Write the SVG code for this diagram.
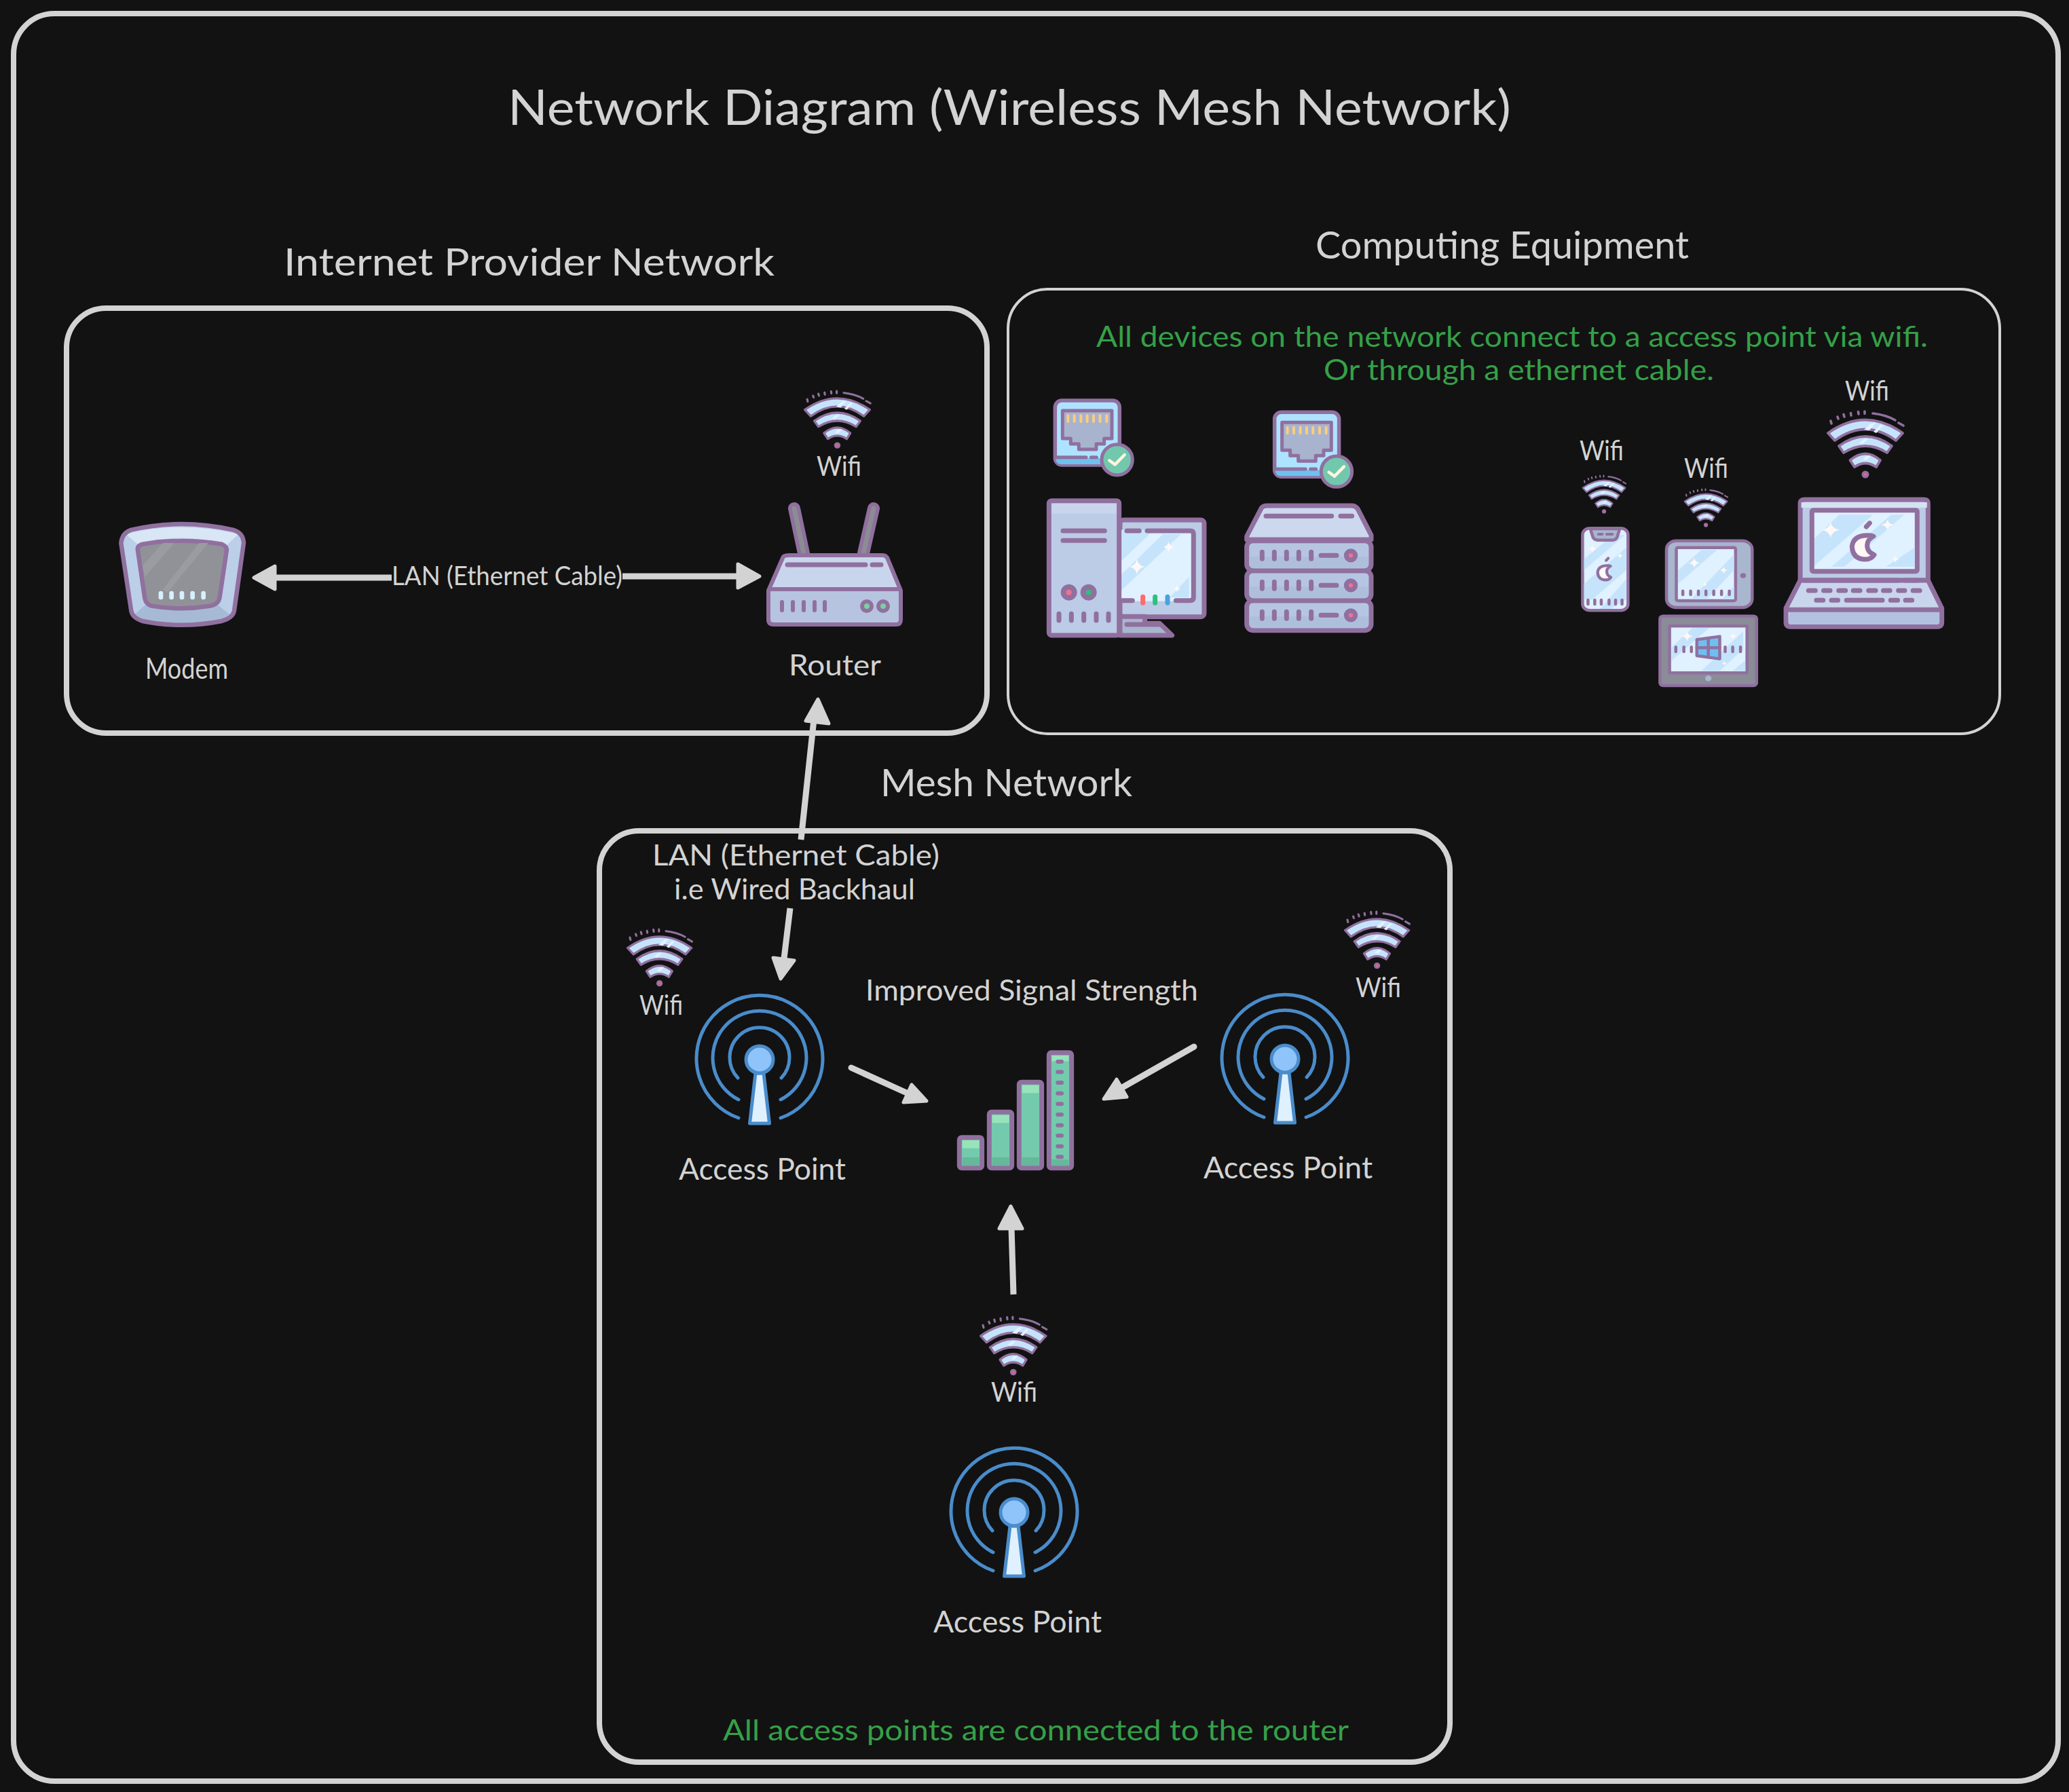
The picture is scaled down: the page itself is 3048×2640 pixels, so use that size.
<svg xmlns="http://www.w3.org/2000/svg" width="3048" height="2640" viewBox="0 0 3048 2640">
<style>
*{vector-effect:non-scaling-stroke}
.sc,.sc *{vector-effect:none}
.fr{fill:none;stroke:#d3d3d3}
.t{font-family:"Lato","Noto Sans",sans-serif;fill:#d3d3d3}
.g{font-family:"Lato","Noto Sans",sans-serif;fill:#35a048}
.p{stroke:#90709f;stroke-linejoin:round;stroke-linecap:round}
.l{fill:none;stroke:#90709f;stroke-linecap:round;stroke-linejoin:round}
.w{fill:#fff8f6}
.ar{fill:#d3d3d3;stroke:#d3d3d3;stroke-width:5;stroke-linejoin:round}
.ln{fill:none;stroke:#d3d3d3;stroke-width:9}
.ap{fill:none;stroke:#4a8ccb;stroke-width:5;stroke-linecap:round}
</style>
<defs>
<path id="star" d="M0-1Q.15-.15 1 0Q.15 .15 0 1Q-.15 .15-1 0Q-.15-.15 0-1Z" class="w"/>
<g id="apple" class="sc">
<path d="M290 207Q212 200 205 255Q208 312 265 312Q290 312 303 292Q272 280 272 250Q272 225 300 210Z" class="w" stroke="#90709f" stroke-width="21" stroke-linejoin="round"/>
<path d="M268 168L283 152" fill="none" stroke="#90709f" stroke-width="21" stroke-linecap="round"/>
</g>
<g id="wifi" class="sc">
<g fill="#c5e4fb" stroke="#90709f" stroke-width="3.800" stroke-linejoin="round">
<path d="M3 31Q58-8 113 31L103 42Q58 9 13 42Z"/>
<path d="M19 50Q58 22 97 50L90 60Q58 40 26 60Z"/>
<path d="M35.500 71Q58 52 80 71L74 81Q58 70 42 81Z"/>
</g>
<path d="M66 17L74 15L64 27L56 26ZM80 19L84 20L74 31L70 29ZM56 40L63 39L54 47L48 46ZM60 64L66 64L60 71L54 70Z" fill="#e3f3ff"/>
<circle cx="58" cy="92" r="4" fill="#e0608f" stroke="#90709f" stroke-width="3"/>
<path d="M8 17L7 13M18 10L17 7M27 7L26 3.500M37 5L36.500 1.500M48 3L47.500-.5M57 2.500V-1M69 2Q88 4 102 12M107 16L114 20" fill="none" stroke="#90709f" stroke-width="3.600" stroke-linecap="round"/>
</g>
<g id="apicon">
<path class="ap" d="M-31 86A93 93 0 1 1 31 86M-31 59A69 69 0 1 1 31 59M-32 27A44 44 0 1 1 32 27"/>
<path d="M-6 20H6L14.500 94H-14.500Z" fill="#dff0ff" stroke="#4a8ccb" stroke-width="5" stroke-linejoin="round"/>
<circle r="20" fill="#8fc4fb" stroke="#4a8ccb" stroke-width="5"/>
</g>
<g id="rj">
<rect x="163" y="150" width="285" height="285" rx="30" fill="#aee3ff" class="p" stroke-width="5.500"/>
<path d="M166 405H440V405Q445 432 420 432H190Q166 432 166 405Z" fill="#6dc1ef"/>
<path d="M170 401H300M322 401H346" class="l" stroke-width="5"/>
<path d="M196 195H414V318H380V342H345V366H268V342H232V318H196Z" fill="#a8b4ce" class="p" stroke-width="5"/>
<path d="M220 217V243M248 217V243M277 217V243M305 217V243M333 217V243M362 217V243M391 217V243" fill="none" stroke="#fbcd7c" stroke-width="4" stroke-linecap="round"/>
<circle cx="437" cy="412" r="68" fill="#72c8ac" class="p" stroke-width="5"/>
<path d="M403 415L428 433L470 390" fill="none" stroke="#fdf4df" stroke-width="4.500" stroke-linecap="round" stroke-linejoin="round"/>
</g>
<g id="rack">
<rect x="50" y="0" width="550" height="132" rx="28" fill="#b6c6e2" class="p" stroke-width="7"/>
<path d="M62 70H588V100Q588 122 566 122H84Q62 122 62 100Z" fill="#aebfdc"/>
<path d="M118 50V80M172 50V80M226 50V80M280 50V80M335 50V80M378 65H447" class="l" stroke-width="7"/>
<circle cx="510" cy="65" r="20" fill="#f2708f" class="p" stroke-width="7"/>
</g>
</defs>

<rect width="3048" height="2640" fill="#121212"/>
<rect id="frame" class="fr" x="20" y="20" width="3012" height="2604" rx="60" stroke-width="8"/>
<text class="t" x="748" y="184" font-size="72" textLength="1478" lengthAdjust="spacingAndGlyphs">Network Diagram (Wireless Mesh Network)</text>

<g id="internet-provider-network">
<rect class="fr" x="98" y="454" width="1356" height="626" rx="58" stroke-width="8"/>
<text class="t" x="418" y="406" font-size="56" textLength="723" lengthAdjust="spacingAndGlyphs">Internet Provider Network</text>
</g>
<g id="computing-equipment">
<rect class="fr" x="1485" y="426" width="1461" height="655" rx="58" stroke-width="4"/>
<text class="t" x="1938" y="381" font-size="56" textLength="550" lengthAdjust="spacingAndGlyphs">Computing Equipment</text>
<text class="g" x="1615" y="511" font-size="42" textLength="1225" lengthAdjust="spacingAndGlyphs">All devices on the network connect to a access point via wifi.</text>
<text class="g" x="1950" y="560" font-size="42" textLength="575" lengthAdjust="spacingAndGlyphs">Or through a ethernet cable.</text>
</g>
<g id="mesh-network">
<rect class="fr" x="883" y="1224" width="1253" height="1372" rx="58" stroke-width="8"/>
<text class="t" x="1297" y="1173" font-size="56" textLength="371" lengthAdjust="spacingAndGlyphs">Mesh Network</text>
<text class="g" x="1065" y="2564" font-size="42" textLength="922" lengthAdjust="spacingAndGlyphs">All access points are connected to the router</text>
</g>

<g id="connectors">
<path class="ln" d="M405 851H577M917 849H1085"/>
<path class="ar" d="M374 851L405 834V868Z"/>
<path class="ar" d="M1119 849L1087 831V866Z"/>
<path class="ln" d="M1180 1237L1199 1060M1164 1338L1155 1412"/>
<path class="ar" d="M1205 1030L1187 1062L1221 1066Z"/>
<path class="ar" d="M1150 1442L1139 1411L1170 1415Z"/>
<path class="ln" d="M1254 1573L1340 1612" stroke-linecap="round"/>
<path class="ar" d="M1365 1622L1343 1598L1331 1624Z"/>
<path class="ln" d="M1759 1542L1650 1604" stroke-linecap="round"/>
<path class="ar" d="M1626 1619L1645 1590L1660 1616Z"/>
<path class="ln" d="M1493 1907L1490 1808"/>
<path class="ar" d="M1489 1777L1472 1810L1506 1810Z"/>
</g>

<g id="modem">
<g transform="translate(160 750) scale(.3333)">
<path d="M55 150Q60 105 100 92Q320 40 550 92Q595 105 597 150L555 450Q550 480 500 495Q320 530 150 495Q105 480 100 450Z" fill="#bccfe8"/>
<path d="M75 110Q320 50 575 110L515 165Q320 125 140 165Z" fill="#d8e6f6"/>
<path d="M160 425Q320 455 485 425L540 470Q520 485 500 490Q320 525 150 490Q125 485 110 470Z" fill="#a7bad5"/>
<path d="M55 150Q60 105 100 92Q320 40 550 92Q595 105 597 150L555 450Q550 480 500 495Q320 530 150 495Q105 480 100 450Z" fill="none" class="p" stroke-width="6.500"/>
<path d="M128 175Q130 160 150 155Q320 125 500 155Q522 165 522 180L490 395Q485 420 450 428Q320 450 190 428Q165 420 160 395Z" fill="#909298" class="p" stroke-width="6.500"/>
<path d="M150 250L240 150H290L160 300ZM240 355L400 150H440L260 370Z" fill="#9a9ca2"/>
<g fill="#d8f0ff"><rect x="221" y="362" width="20" height="38" rx="9"/><rect x="268" y="362" width="20" height="38" rx="9"/><rect x="314" y="362" width="20" height="38" rx="9"/><rect x="361" y="362" width="20" height="38" rx="9"/><rect x="409" y="362" width="20" height="38" rx="9"/></g>
</g>
<text class="t" x="214" y="1000" font-size="42" textLength="122" lengthAdjust="spacingAndGlyphs">Modem</text>
</g>

<g id="router">
<path d="M1170 749L1184 815M1287 749L1272 815" stroke="#90709f" stroke-width="18" stroke-linecap="round"/>
<path d="M1170 749L1184 815M1287 749L1272 815" stroke="#8c8c94" stroke-width="7" stroke-linecap="round"/>
<path d="M1153 822Q1154 818 1162 818H1300Q1306 818 1308 824L1327 870V913Q1327 920 1320 920H1136Q1132 920 1132 913V870Z" fill="#c9d5ec"/>
<path d="M1132 868H1327V913Q1327 920 1320 920H1140Q1132 920 1132 913Z" fill="#b6c4e0"/>
<path d="M1153 822Q1154 818 1162 818H1300Q1306 818 1308 824L1327 870V913Q1327 920 1320 920H1140Q1132 920 1132 913V870Z" fill="none" class="p" stroke-width="6"/>
<path d="M1134 868H1325" class="l" stroke-width="6"/>
<path d="M1160 832H1275M1285 832H1298" class="l" stroke-width="7"/>
<path d="M1152 887V899M1168 887V899M1184 887V899M1200 887V899M1215 887V899" class="l" stroke-width="6"/>
<circle cx="1277" cy="893" r="7" fill="#7bd0a0" class="p" stroke-width="6"/>
<circle cx="1301" cy="893" r="7" fill="#7bd0a0" class="p" stroke-width="6"/>
<text class="t" x="1162" y="995" font-size="42" textLength="136" lengthAdjust="spacingAndGlyphs">Router</text>
</g>
<g id="router-wifi">
<use href="#wifi" transform="translate(1183 577) scale(.87 .86)"/>
<text class="t" x="1203" y="701" font-size="40" textLength="66" lengthAdjust="spacingAndGlyphs">Wifi</text>
</g>
<text class="t" x="577" y="862" font-size="38" textLength="340" lengthAdjust="spacingAndGlyphs">LAN (Ethernet Cable)</text>

<g id="desktop-computer" transform="translate(1500 540) scale(.3333)">
<use href="#rj"/>
<rect x="450" y="678" width="372" height="428" rx="15" fill="#bccbe6" class="p" stroke-width="7"/>
<rect x="450" y="722" width="325" height="315" fill="#e0f1ff"/>
<path d="M455 722H600L455 860ZM640 740H720L455 990V920ZM755 930V1020H670Z" fill="#c5e4fb"/>
<path d="M480 726H535M570 726H760Q775 726 775 740V1020Q775 1034 760 1034H697M455 1034H505" class="l" stroke-width="7"/>
<use href="#star" transform="translate(525 885) scale(34)"/>
<use href="#star" transform="translate(665 798) scale(24)"/>
<use href="#star" transform="translate(702 982) scale(16)"/>
<path d="M551 1018V1045" stroke="#ff6b6b" stroke-width="7" stroke-linecap="round"/>
<path d="M605 1018V1045" stroke="#2fbf80" stroke-width="7" stroke-linecap="round"/>
<path d="M660 1018V1045" stroke="#4aa2dc" stroke-width="7" stroke-linecap="round"/>
<path d="M450 1105H560V1135H625L680 1188H450Z" fill="#a8b6ce" class="p" stroke-width="7"/>
<path d="M480 1140H625" class="l" stroke-width="7"/>
<rect x="136" y="593" width="310" height="595" rx="12" fill="#bccbe6" class="p" stroke-width="7"/>
<rect x="148" y="606" width="286" height="44" fill="#c9d5ec"/>
<path d="M198 726H382M198 769H382" class="l" stroke-width="7"/>
<circle cx="224" cy="998" r="24" fill="#f2708f" class="p" stroke-width="8"/>
<circle cx="311" cy="998" r="24" fill="#2cbf80" class="p" stroke-width="8"/>
<path d="M180 1093V1122M235 1093V1122M290 1093V1122M345 1093V1122M399 1093V1122" class="l" stroke-width="7"/>
</g>

<use id="server-rj" href="#rj" transform="translate(1500 540) scale(.3333) translate(970 52)"/>
<g id="server-rack" transform="translate(1820 730) scale(.3333)">
<use href="#rack" y="464" transform="translate(0 0)"/>
<use href="#rack" y="332"/>
<use href="#rack" y="200"/>
<path d="M50 195V180L115 55Q122 45 140 45H515Q530 45 540 58L600 175V195Z" fill="#ccd8ee" class="p" stroke-width="7"/>
<path d="M135 91H425M465 91H515" class="l" stroke-width="7"/>
</g>

<g id="phone" transform="translate(2300 540) scale(.3827 .3333)">
<rect x="82" y="715" width="175" height="363" rx="28" fill="#e0f1ff" class="p" stroke-width="4.500"/>
<path d="M88 850L200 745H245L88 900ZM88 960L250 800V900L120 1030H88ZM250 940V1030L190 1070H150Z" fill="#c5e4fb"/>
<path d="M112 717H225L215 755Q210 767 198 767H140Q128 767 122 755Z" fill="#a8b6ce" class="p" stroke-width="4.500"/>
<path d="M143 741H158M175 741H197" class="l" stroke-width="4"/>
<use href="#star" transform="translate(120 806) scale(17)"/>
<use href="#star" transform="translate(226 836) scale(12)"/>
<path d="M103 1032V1050M129 1032V1050M154 1032V1050M184 1032V1050M209 1032V1050M234 1032V1050" class="l" stroke-width="4.500"/>
</g>
<use id="phone-apple" href="#apple" transform="translate(2312.600 792) scale(.2)"/>
<g id="phone-wifi"><use href="#wifi" transform="translate(2330 701) scale(.57)"/>
<text class="t" x="2327" y="678" font-size="40" textLength="65" lengthAdjust="spacingAndGlyphs">Wifi</text></g>

<g id="ipad" transform="translate(2300 540) scale(.3827 .3333)">
<rect x="405" y="770" width="330" height="295" rx="38" fill="#a8b6ce" class="p" stroke-width="4.500"/>
<rect x="443" y="800" width="228" height="235" rx="6" fill="#e0f1ff" class="p" stroke-width="4.500"/>
<path d="M450 900L540 810H600L450 960ZM665 830V900L560 1028H500ZM665 970V1028H620Z" fill="#c5e4fb"/>
<use href="#star" transform="translate(512 868) scale(22)"/>
<use href="#star" transform="translate(625 900) scale(15)"/>
<use href="#star" transform="translate(553 962) scale(9)"/>
<circle cx="700" cy="924" r="11" fill="#90709f"/>
<path d="M468 992V1008M498 992V1008M528 992V1008M557 992V1008M587 992V1008M617 992V1008M647 992V1008" class="l" stroke-width="4.500"/>
</g>
<g id="ipad-wifi"><use href="#wifi" transform="translate(2480 721) scale(.57)"/>
<text class="t" x="2481" y="704" font-size="40" textLength="65" lengthAdjust="spacingAndGlyphs">Wifi</text></g>

<g id="windows-tablet" transform="translate(2300 540) scale(.3827 .3333)">
<rect x="380" y="1103" width="372" height="307" rx="12" fill="#8a8c97" class="p" stroke-width="4.500"/>
<rect x="417" y="1147" width="298" height="207" fill="#e0f1ff" class="p" stroke-width="4.500"/>
<path d="M425 1240L505 1155H570L425 1300ZM700 1170V1250L610 1345H540ZM708 1300V1345H660Z" fill="#c5e4fb"/>
<use href="#star" transform="translate(485 1192) scale(22)"/>
<use href="#star" transform="translate(662 1192) scale(15)"/>
<use href="#star" transform="translate(628 1312) scale(10)"/>
<path d="M522 1207L610 1193V1292L522 1278Z" fill="#6cc0f2" class="p" stroke-width="4.500"/>
<path d="M566 1200V1285M522 1243H610" class="l" stroke-width="4.500"/>
<path d="M441 1240V1260M472 1240V1260M501 1240V1260M631 1240V1260M660 1240V1260M690 1240V1260" class="l" stroke-width="4.500"/>
<ellipse cx="566" cy="1378" rx="12" ry="13" fill="#a8b6ce"/>
</g>

<g id="laptop" transform="translate(2300 540) scale(.3827 .3333)">
<path d="M920 945V605Q920 588 938 588H1395Q1412 588 1412 605V945Z" fill="#bccbe6" class="p" stroke-width="7"/>
<rect x="924" y="600" width="484" height="24" fill="#d5e2f0"/>
<rect x="965" y="635" width="405" height="270" rx="6" fill="#e0f1ff" class="p" stroke-width="7"/>
<path d="M975 760L1070 655H1200L975 880ZM1270 655H1320L1090 885H1040ZM1360 800V885H1250Z" fill="#c5e4fb"/>
<use href="#star" transform="translate(1037 722) scale(34)"/>
<use href="#star" transform="translate(1256 700) scale(24)"/>
<use href="#star" transform="translate(1286 851) scale(15)"/>
<path d="M920 945H1412L1465 1068V1130Q1465 1150 1445 1150H885Q865 1150 865 1130V1068Z" fill="#c9d5ec" class="p" stroke-width="7"/>
<path d="M880 1078H1455V1130Q1455 1140 1445 1140H885Q875 1140 875 1130Z" fill="#b1c1df"/>
<path d="M868 1075H1462" class="l" stroke-width="7"/>
<path d="M935 945H1295M1325 945H1370" class="l" stroke-width="7"/>
<path d="M952 990H978M1010 990H1035M1068 990H1094M1124 990H1150M1183 990H1210M1240 990H1265M1298 990H1322M1354 990H1380M982 1033H1008M1040 1033H1065M1098 1033H1236M1268 1033H1295M1325 1033H1350" class="l" stroke-width="7"/>
</g>
<use id="laptop-apple" href="#apple" transform="translate(2660 720) scale(.3333)"/>
<g id="laptop-wifi"><use href="#wifi" transform="translate(2690 607)"/>
<text class="t" x="2718" y="590" font-size="40" textLength="65" lengthAdjust="spacingAndGlyphs">Wifi</text></g>

<g id="access-point-1">
<use href="#apicon" x="1119" y="1561"/>
<text class="t" x="1000" y="1738" font-size="44" textLength="246" lengthAdjust="spacingAndGlyphs">Access Point</text>
</g>
<g id="ap1-wifi"><use href="#wifi" transform="translate(922 1370) scale(.855)"/>
<text class="t" x="942" y="1495" font-size="40" textLength="64" lengthAdjust="spacingAndGlyphs">Wifi</text></g>
<g id="access-point-2">
<use href="#apicon" x="1893" y="1560"/>
<text class="t" x="1773" y="1736" font-size="44" textLength="249" lengthAdjust="spacingAndGlyphs">Access Point</text>
</g>
<g id="ap2-wifi"><use href="#wifi" transform="translate(1979 1344) scale(.855)"/>
<text class="t" x="1997" y="1469" font-size="40" textLength="67" lengthAdjust="spacingAndGlyphs">Wifi</text></g>
<g id="access-point-3">
<use href="#apicon" x="1494" y="2228"/>
<text class="t" x="1375" y="2405" font-size="44" textLength="248" lengthAdjust="spacingAndGlyphs">Access Point</text>
</g>
<g id="ap3-wifi"><use href="#wifi" transform="translate(1442 1941) scale(.875)"/>
<text class="t" x="1460" y="2065" font-size="40" textLength="68" lengthAdjust="spacingAndGlyphs">Wifi</text></g>

<text class="t" x="961" y="1275" font-size="42" textLength="423" lengthAdjust="spacingAndGlyphs">LAN (Ethernet Cable)</text>
<text class="t" x="993" y="1325" font-size="42" textLength="355" lengthAdjust="spacingAndGlyphs">i.e Wired Backhaul</text>
<text class="t" x="1275" y="1474" font-size="42" textLength="490" lengthAdjust="spacingAndGlyphs">Improved Signal Strength</text>

<g id="signal-strength" transform="translate(1380 1500) scale(.3333)">
<g fill="#74caad" class="p" stroke-width="7">
<rect x="100" y="527" width="100" height="135" rx="10"/>
<rect x="232" y="415" width="100" height="247" rx="10"/>
<rect x="364" y="283" width="100" height="379" rx="10"/>
<rect x="496" y="152" width="100" height="510" rx="10"/>
</g>
<g fill="#99e3bb"><rect x="113" y="540" width="75" height="35"/><rect x="245" y="428" width="75" height="35"/><rect x="377" y="296" width="75" height="35"/><rect x="508" y="165" width="75" height="25"/></g>
<path d="M113 615H188V652H113ZM245 615H320V652H245ZM377 615H452V652H377ZM508 625H583V652H508Z" fill="#66b89b"/>
<path d="M535 192H552M535 238H552M535 285H552M535 332H552M535 379H552M535 426H552M535 473H552M535 519H552M535 566H552M535 613H552" class="l" stroke-width="6"/>
</g>
</svg>
